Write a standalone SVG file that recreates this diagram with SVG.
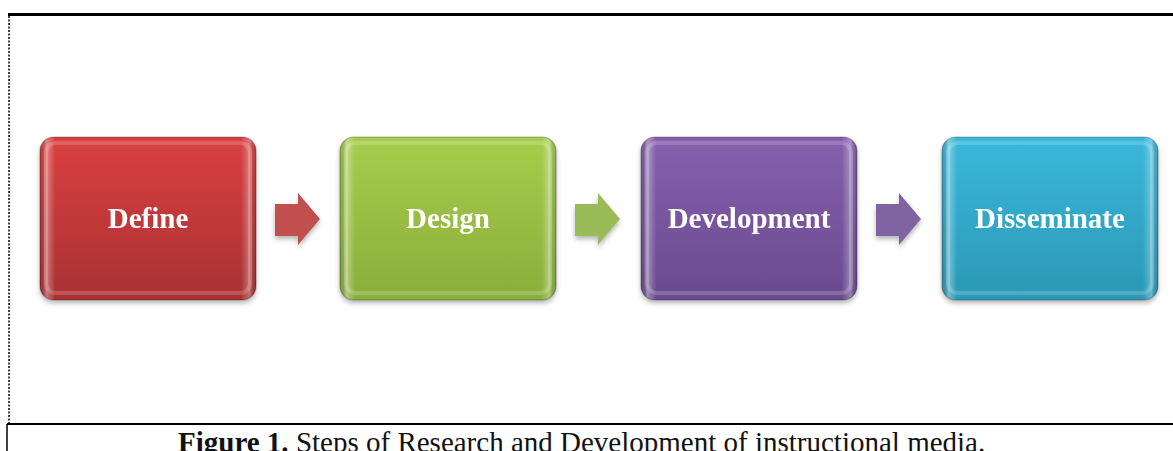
<svg xmlns="http://www.w3.org/2000/svg" width="1173" height="451" viewBox="0 0 1173 451">
<defs>
<style>
.lbl{font-family:"Liberation Serif","Times New Roman",serif;font-weight:bold;font-size:29px;fill:#fff;text-anchor:middle}
.cap{font-family:"Liberation Serif","Times New Roman",serif;font-size:29px;fill:#111}
.gloss{fill:none;stroke:#fff;stroke-opacity:0.18;stroke-width:4}
.out{fill:none;stroke:#000;stroke-opacity:0.25;stroke-width:1.2}
</style>
<filter id="sh" x="-10%" y="-10%" width="120%" height="125%">
<feGaussianBlur in="SourceAlpha" stdDeviation="2.5"/>
<feOffset dy="3" result="b"/>
<feComponentTransfer><feFuncA type="linear" slope="0.3"/></feComponentTransfer>
<feMerge><feMergeNode/><feMergeNode in="SourceGraphic"/></feMerge>
</filter>
<linearGradient id="gR" x1="0" y1="0" x2="0" y2="1"><stop offset="0" stop-color="#da4040"/><stop offset="1" stop-color="#a93133"/></linearGradient>
<linearGradient id="gG" x1="0" y1="0" x2="0" y2="1"><stop offset="0" stop-color="#a8cc4c"/><stop offset="1" stop-color="#8aae3a"/></linearGradient>
<linearGradient id="gP" x1="0" y1="0" x2="0" y2="1"><stop offset="0" stop-color="#8660ac"/><stop offset="1" stop-color="#6a4a8f"/></linearGradient>
<linearGradient id="gT" x1="0" y1="0" x2="0" y2="1"><stop offset="0" stop-color="#3ab8da"/><stop offset="1" stop-color="#2a98b6"/></linearGradient>
<linearGradient id="edge" x1="0" y1="0" x2="1" y2="0">
<stop offset="0" stop-color="#000" stop-opacity="0.1"/><stop offset="0.03" stop-color="#fff" stop-opacity="0.35"/><stop offset="0.07" stop-color="#fff" stop-opacity="0"/>
<stop offset="0.93" stop-color="#fff" stop-opacity="0"/><stop offset="0.97" stop-color="#fff" stop-opacity="0.3"/><stop offset="1" stop-color="#000" stop-opacity="0.1"/></linearGradient>
<path id="arr" d="M0,11 H23 V0 L45,26 L23,52 V43 H0 Z"/>
</defs>
<rect width="1173" height="451" fill="#fff"/>
<g id="frame">
<line x1="8" y1="14.5" x2="1173" y2="14.5" stroke="#000" stroke-width="3"/>
<line x1="9" y1="16" x2="9" y2="423" stroke="#000" stroke-width="1.5" stroke-dasharray="2,1.5"/>
<line x1="7" y1="424" x2="1173" y2="424" stroke="#000" stroke-width="2"/>
<line x1="7" y1="424" x2="7" y2="451" stroke="#000" stroke-width="1.5"/>
</g>
<g id="node-define" filter="url(#sh)">
<rect x="40" y="137" width="216" height="163" rx="14" fill="url(#gR)"/>
<rect x="40" y="137" width="216" height="163" rx="14" fill="url(#edge)"/>
<rect x="46" y="143" width="204" height="150" rx="10" class="gloss"/>
<rect x="40" y="137" width="216" height="163" rx="14" class="out"/>
<text x="148" y="228" class="lbl">Define</text>
</g>
<g id="node-design" filter="url(#sh)">
<rect x="340" y="137" width="216" height="163" rx="14" fill="url(#gG)"/>
<rect x="340" y="137" width="216" height="163" rx="14" fill="url(#edge)"/>
<rect x="346" y="143" width="204" height="150" rx="10" class="gloss"/>
<rect x="340" y="137" width="216" height="163" rx="14" class="out"/>
<text x="448" y="228" class="lbl">Design</text>
</g>
<g id="node-development" filter="url(#sh)">
<rect x="641" y="137" width="216" height="163" rx="14" fill="url(#gP)"/>
<rect x="641" y="137" width="216" height="163" rx="14" fill="url(#edge)"/>
<rect x="647" y="143" width="204" height="150" rx="10" class="gloss"/>
<rect x="641" y="137" width="216" height="163" rx="14" class="out"/>
<text x="749" y="228" class="lbl">Development</text>
</g>
<g id="node-disseminate" filter="url(#sh)">
<rect x="942" y="137" width="216" height="163" rx="14" fill="url(#gT)"/>
<rect x="942" y="137" width="216" height="163" rx="14" fill="url(#edge)"/>
<rect x="948" y="143" width="204" height="150" rx="10" class="gloss"/>
<rect x="942" y="137" width="216" height="163" rx="14" class="out"/>
<text x="1050" y="228" class="lbl">Disseminate</text>
</g>
<g id="connectors" filter="url(#sh)">
<use href="#arr" x="275" y="193" fill="#c0504d"/>
<use href="#arr" x="575" y="193" fill="#9bbb59"/>
<use href="#arr" x="876" y="193" fill="#8064a2"/>
</g>
<text x="178" y="452" class="cap"><tspan font-weight="bold">Figure 1.</tspan> Steps of Research and Development of instructional media.</text>
</svg>
